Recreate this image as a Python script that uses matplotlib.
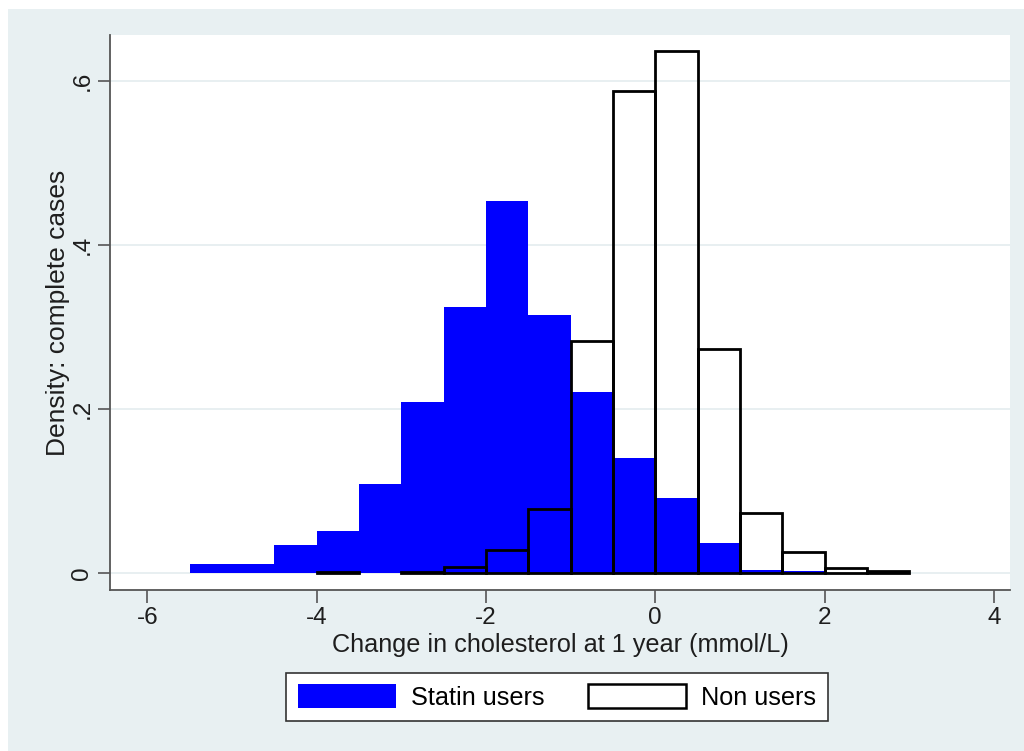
import matplotlib
import matplotlib.pyplot as plt
from matplotlib.patches import Rectangle, Patch
import numpy as np

matplotlib.use('Agg')

# Bin edges (width 0.5) and density heights
edges = np.arange(-5.5, 3.01, 0.5)
statin_density = [0.0115, 0.0115, 0.034, 0.051, 0.109, 0.209, 0.324, 0.454,
                  0.315, 0.221, 0.140, 0.091, 0.037, 0.004, 0.002, 0.0, 0.0]
nonuser_density = [0.0, 0.0, 0.0, 0.001, 0.0, 0.001, 0.007, 0.028,
                   0.078, 0.283, 0.588, 0.637, 0.273, 0.073, 0.026, 0.006, 0.003]
x_ticks = [-6, -4, -2, 0, 2, 4]
y_ticks = [0, 0.2, 0.4, 0.6]
y_tick_labels = ['0', '.2', '.4', '.6']

plt.rcParams['font.family'] = ['Liberation Sans', 'DejaVu Sans']
bg = '#e8f0f2'
txt = '#1e1e1e'

fig = plt.figure(figsize=(10.24, 7.51), dpi=100)
fig.patch.set_facecolor('white')
fig.patches.append(Rectangle((8 / 1024, 0), 1 - 8 / 1024, 1 - 9 / 751,
                             transform=fig.transFigure, facecolor=bg,
                             edgecolor='none', zorder=-10))

ax = fig.add_axes([110 / 1024, 1 - 590 / 751, 900 / 1024, 555 / 751])
ax.set_facecolor('white')

lefts = edges[:-1]
s = np.array(statin_density)
n = np.array(nonuser_density)
ax.bar(lefts[s > 0], s[s > 0], width=0.5, align='edge', color='#0000ff',
       edgecolor='none', zorder=2)
# empty bins draw nothing, so only bins with cases get an outline
ax.bar(lefts[n > 0], n[n > 0], width=0.5, align='edge', facecolor='none',
       edgecolor='black', linewidth=2, zorder=3)

ax.set_xlim(-6.44, 4.19)
ax.set_ylim(-0.0207, 0.656)
ax.set_xticks(x_ticks)
ax.set_xticklabels([f'{t}' for t in x_ticks])
ax.set_yticks(y_ticks)
ax.set_yticklabels(y_tick_labels, rotation=90, va='center')
ax.tick_params(axis='both', labelsize=17.5, length=9, width=1.2, color='#555555',
               labelcolor=txt)
ax.tick_params(axis='x', pad=3)
ax.tick_params(axis='y', pad=3)

for y in y_ticks:
    ax.axhline(y, color='#e6eef0', linewidth=1.3, zorder=1)

for side in ['top', 'right']:
    ax.spines[side].set_visible(False)
for side in ['left', 'bottom']:
    ax.spines[side].set_color('#555555')
    ax.spines[side].set_linewidth(1.3)

ax.set_xlabel('Change in cholesterol at 1 year (mmol/L)', fontsize=18.2,
              color=txt, labelpad=3)
ax.set_ylabel('Density: complete cases', fontsize=19, color=txt,
              labelpad=1)

handles = [Patch(facecolor='#0000ff', edgecolor='none'),
           Patch(facecolor='white', edgecolor='black', linewidth=1.8)]
leg = fig.legend(handles, ['Statin users', 'Non users'], ncol=2,
                 loc='center', bbox_to_anchor=(557 / 1024, 1 - 697 / 751),
                 fontsize=18.2, frameon=True, fancybox=False, framealpha=1,
                 handlelength=3.9, handleheight=1.1, columnspacing=1.7,
                 handletextpad=0.6, borderpad=0.45)
leg.get_frame().set_edgecolor('#333333')
leg.get_frame().set_linewidth(1.2)

plt.savefig('out.png', dpi=100)
plt.close(fig)
